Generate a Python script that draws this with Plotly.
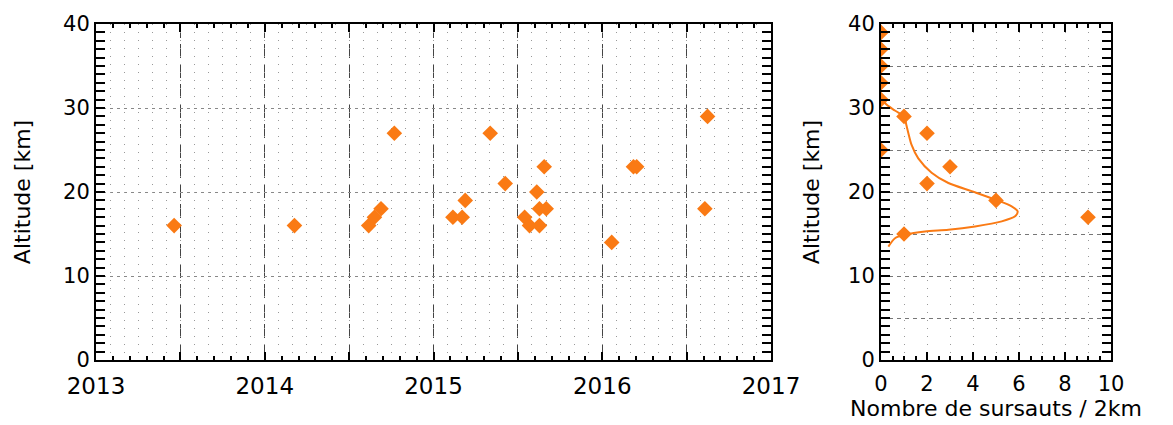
import plotly.graph_objects as go

# ---- Data ----
# Left panel: burst dates (decimal years) and altitudes (km)
burst_dates = [2013.463, 2014.176, 2014.616, 2014.650, 2014.689, 2014.768,
               2015.115, 2015.170, 2015.188, 2015.336, 2015.425, 2015.540,
               2015.569, 2015.612, 2015.628, 2015.628, 2015.656, 2015.668,
               2016.056, 2016.185, 2016.204, 2016.608, 2016.624]
burst_alts = [16, 16, 16, 17, 18, 27,
              17, 17, 19, 27, 21, 17,
              16, 20, 16, 18, 23, 18,
              14, 23, 23, 18, 29]

# Right panel: histogram (number of bursts per 2 km bin)
hist_counts = [0, 0, 0, 0, 0, 1, 2, 0, 3, 2, 5, 9, 1]
hist_alts = [39, 37, 35, 33, 31, 29, 27, 25, 23, 21, 19, 17, 15]

# Right panel: fitted profile curve
fit_counts = [0.05, 0.17, 0.6, 1.01, 1.1, 1.19, 1.33, 1.62, 2.2, 2.93, 3.94,
              4.96, 5.68, 5.94, 5.83, 5.25, 4.09, 2.93, 1.91, 1.04, 0.61, 0.32]
fit_alts = [31.5, 30.6, 29.7, 29.0, 28.0, 27.0, 25.6, 24.0, 22.3, 21.07, 20.1,
            19.1, 18.3, 17.7, 17.1, 16.5, 15.9, 15.5, 15.3, 14.9, 14.5, 13.5]

year_ticks = [2013, 2013.5, 2014, 2014.5, 2015, 2015.5, 2016, 2016.5, 2017]
year_text = ["2013", "", "2014", "", "2015", "", "2016", "", "2017"]
alt_ticks_right = [0, 5, 10, 15, 20, 25, 30, 35, 40]
alt_text_right = ["0", "", "10", "", "20", "", "30", "", "40"]

ORANGE = "#FA7A14"
FONT = "DejaVu Sans"
W, H = 1173, 425

fig = go.Figure()

fig.add_trace(go.Scatter(
    x=burst_dates, y=burst_alts, mode="markers",
    marker=dict(symbol="diamond", size=12, color=ORANGE, line=dict(width=0)),
    xaxis="x", yaxis="y", showlegend=False))

# empty traces to activate overlay grid axes
fig.add_trace(go.Scatter(x=[], y=[], xaxis="x3", yaxis="y", showlegend=False))
fig.add_trace(go.Scatter(x=[], y=[], xaxis="x4", yaxis="y2", showlegend=False))

fig.add_trace(go.Scatter(
    x=fit_counts, y=fit_alts, mode="lines",
    line=dict(color=ORANGE, width=2, shape="spline", smoothing=0.8),
    xaxis="x2", yaxis="y2", showlegend=False))
fig.add_trace(go.Scatter(
    x=hist_counts, y=hist_alts, mode="markers",
    marker=dict(symbol="diamond", size=12, color=ORANGE, line=dict(width=0)),
    xaxis="x2", yaxis="y2", showlegend=False))

x1dom = [88 / W, 763 / W]
x2dom = [873 / W, 1103 / W]
ydom = [1 - 352 / H, 1 - 16 / H]

common = dict(showline=True, linecolor="black", linewidth=2, mirror="allticks",
              zeroline=False, ticks="inside", tickcolor="black", tickwidth=2,
              tickfont=dict(family=FONT, size=21, color="black"))

minor_y = dict(tickmode="linear", tick0=0, dtick=1, ticks="inside", ticklen=5,
               tickcolor="black", tickwidth=2, showgrid=False)

fig.update_layout(
    width=W, height=H, margin=dict(l=0, r=0, t=0, b=0),
    paper_bgcolor="white", plot_bgcolor="white", template="none",
    font=dict(family=FONT, color="black"),
    xaxis=dict(
        domain=x1dom, anchor="y", range=[2013, 2017],
        tickmode="array", tickvals=year_ticks, ticktext=year_text,
        ticklen=8, ticklabelstandoff=4,
        showgrid=True, gridcolor="#444", gridwidth=1.3, griddash="14px,6px",
        minor=dict(tickmode="linear", dtick=0.1, tick0=2013, ticks="inside",
                   ticklen=4, tickcolor="black", tickwidth=1.5, showgrid=False),
        **{**common, "tickfont": dict(family=FONT, size=23, color="black")}),
    xaxis3=dict(
        overlaying="x", anchor="y", range=[2013, 2017], tick0=2013, dtick=1 / 12,
        showgrid=True, gridcolor="#999", gridwidth=1, griddash="1px,7px",
        showline=False, ticks="", showticklabels=False, zeroline=False),
    yaxis=dict(
        domain=ydom, anchor="x", range=[0, 40], tickmode="linear", tick0=0,
        dtick=10, ticklen=9,
        showgrid=True, gridcolor="#888", gridwidth=1, griddash="3px,4px",
        minor=minor_y,
        title=dict(text="Altitude [km]", font=dict(family=FONT, size=22),
                   standoff=26),
        **common),
    xaxis2=dict(
        domain=x2dom, anchor="y2", range=[0, 10], dtick=2, ticklen=8,
        ticklabelstandoff=4, showgrid=False,
        minor=dict(dtick=0.5, ticks="inside", ticklen=4, tickcolor="black",
                   tickwidth=1.5, showgrid=False),
        title=dict(text="Nombre de sursauts / 2km",
                   font=dict(family=FONT, size=22), standoff=3),
        **common),
    xaxis4=dict(
        overlaying="x2", anchor="y2", range=[0, 10], dtick=1,
        showgrid=True, gridcolor="#999", gridwidth=1, griddash="1px,7px",
        showline=False, ticks="", showticklabels=False, zeroline=False),
    yaxis2=dict(
        domain=ydom, anchor="x2", range=[0, 40],
        tickmode="array", tickvals=alt_ticks_right, ticktext=alt_text_right,
        ticklen=9,
        showgrid=True, gridcolor="#777", gridwidth=1, griddash="4px,4px",
        minor=minor_y,
        title=dict(text="Altitude [km]", font=dict(family=FONT, size=22),
                   standoff=22),
        **common),
)

fig.write_html("out.html")
